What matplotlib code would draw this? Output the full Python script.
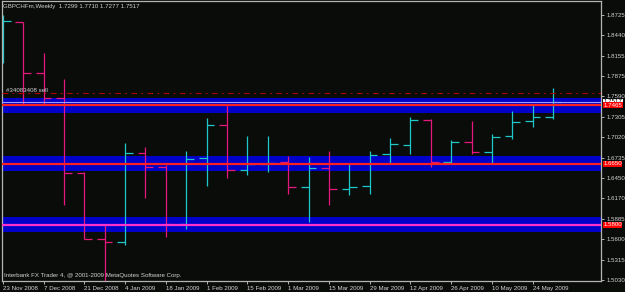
#!/usr/bin/env python3
"""
GBPCHF weekly bar chart, MetaTrader style, with support/resistance bands.
"""

import matplotlib
matplotlib.use('Agg')
import matplotlib.pyplot as plt
import matplotlib.transforms as mtransforms
import numpy as np

# weekly bars starting 23 Nov 2008
opens = [1.8125, 1.8626, 1.7915, 1.7567, 1.6521, 1.5601, 1.5560, 1.6800, 1.6605, 1.5810,
         1.6731, 1.7191, 1.6563, 1.6647, 1.6675, 1.6326, 1.6591, 1.6298, 1.6340, 1.6786,
         1.6912, 1.7260, 1.6675, 1.6954, 1.6814, 1.7037, 1.7246, 1.7299]
highs = [1.8724, 1.8626, 1.8194, 1.7832, 1.6530, 1.5797, 1.6940, 1.6884, 1.6633, 1.6828,
         1.7288, 1.7469, 1.7037, 1.7037, 1.6758, 1.6744, 1.6828, 1.6647, 1.6828, 1.7009,
         1.7302, 1.7274, 1.6981, 1.7246, 1.7065, 1.7386, 1.7483, 1.7710]
lows = [1.8055, 1.7469, 1.7469, 1.6075, 1.5601, 1.4988, 1.5518, 1.6173, 1.5629, 1.5741,
        1.6340, 1.6452, 1.6494, 1.6535, 1.6229, 1.5838, 1.6075, 1.6215, 1.6229, 1.6647,
        1.6786, 1.6605, 1.6647, 1.6786, 1.6661, 1.6995, 1.7163, 1.7277]
closes = [1.8640, 1.7915, 1.7567, 1.6521, 1.5601, 1.5560, 1.6800, 1.6605, 1.5810, 1.6717,
          1.7191, 1.6563, 1.6647, 1.6661, 1.6326, 1.6591, 1.6298, 1.6326, 1.6772, 1.6926,
          1.7260, 1.6675, 1.6954, 1.6814, 1.7023, 1.7232, 1.7302, 1.7517]

date_labels = ['23 Nov 2008', '7 Dec 2008', '21 Dec 2008', '4 Jan 2009', '18 Jan 2009',
               '1 Feb 2009', '15 Feb 2009', '1 Mar 2009', '15 Mar 2009', '29 Mar 2009',
               '12 Apr 2009', '26 Apr 2009', '10 May 2009', '24 May 2009']
price_ticks = [1.8725, 1.8440, 1.8155, 1.7875, 1.7590, 1.7305, 1.7020, 1.6735,
               1.6450, 1.6170, 1.5885, 1.5600, 1.5315, 1.5030]

levels = [1.7465, 1.6650, 1.5800]
band_half = 0.0105
bid = 1.7517
order_price = 1.7637

BG = '#0a0c0a'
UP = '#1ec8c8'
DOWN = '#e8177f'
GREY = '#b4b4b4'
TXT = '#d2d2d2'
FS = 4.4

plt.rcParams['font.family'] = ['Liberation Sans', 'DejaVu Sans']

fig = plt.figure(figsize=(6.25, 2.92), dpi=100, facecolor=BG)
ax = fig.add_axes([2 / 625, 11 / 292, 599 / 625, 280 / 292], facecolor=BG)

x = np.arange(len(opens))
o = np.array(opens)
c = np.array(closes)
colors = np.where(c >= o, UP, DOWN)

# bands and level lines
for lvl, lc in zip(levels, ['#ff2020', '#ff2020', '#ff33cc']):
    ax.axhspan(lvl - band_half, lvl + band_half, color='#0000c8', lw=0, zorder=1)
    ax.axhline(lvl, color=lc, lw=1.6, zorder=3)
ax.axhline(bid, color='#9a9aff', lw=0.8, zorder=3)
ax.axhline(order_price, color='#b00000', lw=0.8, dashes=(5, 4, 1.5, 4), zorder=3)

# OHLC bars
tw = 0.38
ax.vlines(x, lows, highs, colors=colors, lw=0.9, zorder=2)
ax.hlines(opens, x - tw, x, colors=colors, lw=0.9, zorder=2)
ax.hlines(closes, x, x + tw, colors=colors, lw=0.9, zorder=2)

ax.set_xlim(-0.04, 29.35)
ax.set_ylim(1.5016, 1.8919)

for s in ax.spines.values():
    s.set_color(GREY)
    s.set_linewidth(0.9)

ax.yaxis.tick_right()
ax.set_yticks(price_ticks)
ax.set_yticklabels([f'{p:.4f}' for p in price_ticks])
ax.tick_params(axis='y', colors=GREY, labelcolor=TXT, labelsize=FS, length=2.5,
               width=0.7, pad=1.2)
ax.set_xticks(x[::2][:len(date_labels)])
ax.set_xticklabels(date_labels, ha='left')
ax.tick_params(axis='x', colors=GREY, labelcolor=TXT, labelsize=FS, length=2.5,
               width=0.7, pad=0.8)

# price labels on the axis
trans = mtransforms.blended_transform_factory(ax.transAxes, ax.transData)
ax.text(1.004, bid, f'{bid:.4f}', transform=trans, fontsize=FS, color='black',
        va='center', ha='left', zorder=6, clip_on=False,
        bbox=dict(facecolor='white', edgecolor='none', pad=0.3))
for lvl in levels:
    ax.text(1.004, lvl, f'{lvl:.4f}', transform=trans, fontsize=FS, color='white',
            va='center', ha='left', zorder=6, clip_on=False,
            bbox=dict(facecolor='#ff0000', edgecolor='none', pad=0.3))

ax.text(0.002, 0.988, 'GBPCHFm,Weekly  1.7299 1.7710 1.7277 1.7517', transform=ax.transAxes,
        fontsize=FS, color=TXT, va='top', ha='left')
ax.text(4 / 599, order_price + 0.0005, '#34083408 sell', transform=trans,
        fontsize=FS, color=TXT, va='bottom', ha='left', zorder=5)
ax.text(0.003, 0.012, 'Interbank FX Trader 4, @ 2001-2009 MetaQuotes Software Corp.',
        transform=ax.transAxes, fontsize=FS, color=TXT, va='bottom', ha='left', zorder=5)

fig.savefig('out.png', dpi=100, facecolor=BG)
